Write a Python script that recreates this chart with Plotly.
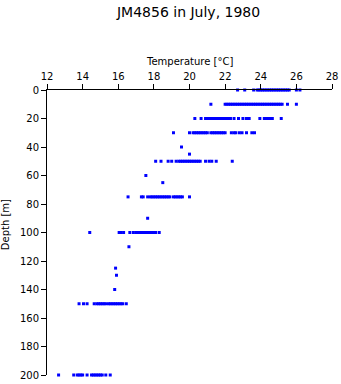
import plotly.graph_objects as go

# Depth levels [m] and the temperatures [°C] measured at each
depths = [0, 10, 20, 30, 40, 45, 50, 60, 65, 75, 90, 100, 110, 125, 130, 140, 150, 200]

temps_0 = [22.7, 23.1, 23.6, 23.8, 23.9, 24.0, 24.1, 24.2, 24.3, 24.4, 24.5, 24.6, 24.7,
           24.8, 24.9, 25.0, 25.1, 25.2, 25.3, 25.4, 25.5, 25.6, 26.0, 26.2]
temps_10 = [21.2, 22.0, 22.1, 22.2, 22.3, 22.4, 22.5, 22.6, 22.7, 22.8, 22.9, 23.0, 23.1,
            23.2, 23.3, 23.4, 23.5, 23.6, 23.7, 23.8, 23.9, 24.0, 24.1, 24.2, 24.3, 24.4,
            24.5, 24.6, 24.7, 24.8, 24.9, 25.0, 25.1, 25.2, 25.5, 26.0]
temps_20 = [20.3, 20.65, 20.9, 21.0, 21.1, 21.2, 21.3, 21.4, 21.5, 21.6, 21.7, 21.8, 21.9,
            22.0, 22.1, 22.2, 22.3, 22.5, 22.75, 23.0, 23.2, 23.35, 23.95, 24.2, 24.3,
            24.4, 24.5, 24.65, 25.15]
temps_30 = [19.1, 20.0, 20.2, 20.3, 20.4, 20.5, 20.6, 20.7, 20.8, 20.9, 21.0, 21.2, 21.3,
            21.4, 21.5, 21.6, 21.7, 21.8, 21.9, 22.0, 22.35, 22.5, 22.6, 22.8, 22.95,
            23.2, 23.5, 23.65]
temps_40 = [19.55]
temps_45 = [20.0]
temps_50 = [18.1, 18.4, 18.8, 19.0, 19.25, 19.4, 19.5, 19.6, 19.7, 19.8, 19.9, 20.0, 20.1,
            20.2, 20.3, 20.4, 20.5, 20.6, 20.9, 21.1, 21.25, 21.5, 22.4]
temps_60 = [17.55]
temps_65 = [18.5]
temps_75 = [16.55, 17.3, 17.4, 17.65, 17.8, 17.9, 18.0, 18.1, 18.2, 18.3, 18.4, 18.5, 18.6,
            18.7, 18.8, 18.9, 19.1, 19.2, 19.3, 19.4, 19.5, 19.6, 20.0]
temps_90 = [17.65]
temps_100 = [14.4, 16.05, 16.15, 16.3, 16.65, 16.85, 17.0, 17.1, 17.2, 17.3, 17.4, 17.5,
             17.6, 17.7, 17.8, 17.9, 18.0, 18.1, 18.3]
temps_110 = [16.6]
temps_125 = [15.85]
temps_130 = [15.9]
temps_140 = [15.8]
temps_150 = [13.8, 14.05, 14.25, 14.65, 14.8, 14.9, 15.0, 15.1, 15.2, 15.3, 15.45, 15.55,
             15.65, 15.75, 15.85, 15.95, 16.05, 16.15, 16.25, 16.45]
temps_200 = [12.65, 13.5, 13.7, 13.8, 13.9, 14.0, 14.25, 14.5, 14.6, 14.7, 14.8, 14.9,
             15.0, 15.1, 15.3, 15.55]

temps_by_depth = [temps_0, temps_10, temps_20, temps_30, temps_40, temps_45, temps_50,
                  temps_60, temps_65, temps_75, temps_90, temps_100, temps_110, temps_125,
                  temps_130, temps_140, temps_150, temps_200]

x_ticks = [12, 14, 16, 18, 20, 22, 24, 26, 28]
y_ticks = [0, 20, 40, 60, 80, 100, 120, 140, 160, 180, 200]

title_text = "JM4856 in July, 1980"
x_title = "Temperature [°C]"
y_title = "Depth [m]"

xs, ys = [], []
for d, ts in zip(depths, temps_by_depth):
    for t in ts:
        xs.append(t)
        ys.append(d)

FONT = "DejaVu Sans, Verdana, sans-serif"

fig = go.Figure(go.Scatter(
    x=xs, y=ys, mode="markers",
    marker=dict(symbol="square", size=3, color="rgb(0,0,255)", line=dict(width=0)),
    cliponaxis=False, showlegend=False,
))

fig.update_layout(
    width=341, height=384,
    margin=dict(l=47, r=9, t=90, b=9, autoexpand=False),
    paper_bgcolor="white", plot_bgcolor="white",
    font=dict(family=FONT, size=10, color="black"),
    title=dict(text=title_text, x=0.553, xanchor="center", y=0.969,
               yanchor="middle", font=dict(size=14, family=FONT, color="black")),
    xaxis=dict(
        side="top", range=[12, 28], tickvals=x_ticks, ticktext=[str(v) for v in x_ticks],
        ticks="outside", ticklen=5, tickcolor="black", showline=True, linecolor="black",
        linewidth=1, showgrid=False, zeroline=False, automargin=False,
        tickfont=dict(size=10),
    ),
    yaxis=dict(
        range=[200, 0], tickvals=y_ticks, ticktext=[str(v) for v in y_ticks],
        ticks="outside", ticklen=5, tickcolor="black", showline=True, linecolor="black",
        linewidth=1, showgrid=False, zeroline=False, automargin=False,
        tickfont=dict(size=10),
    ),
    annotations=[
        dict(text=x_title, xref="paper", yref="paper", x=0.5, y=1.1,
             xanchor="center", yanchor="middle", showarrow=False,
             font=dict(size=10, family=FONT)),
        dict(text=y_title, xref="paper", yref="paper", x=-0.147, y=0.526,
             xanchor="center", yanchor="middle", showarrow=False, textangle=-90,
             font=dict(size=10, family=FONT)),
    ],
)

fig.write_html("out.html")
